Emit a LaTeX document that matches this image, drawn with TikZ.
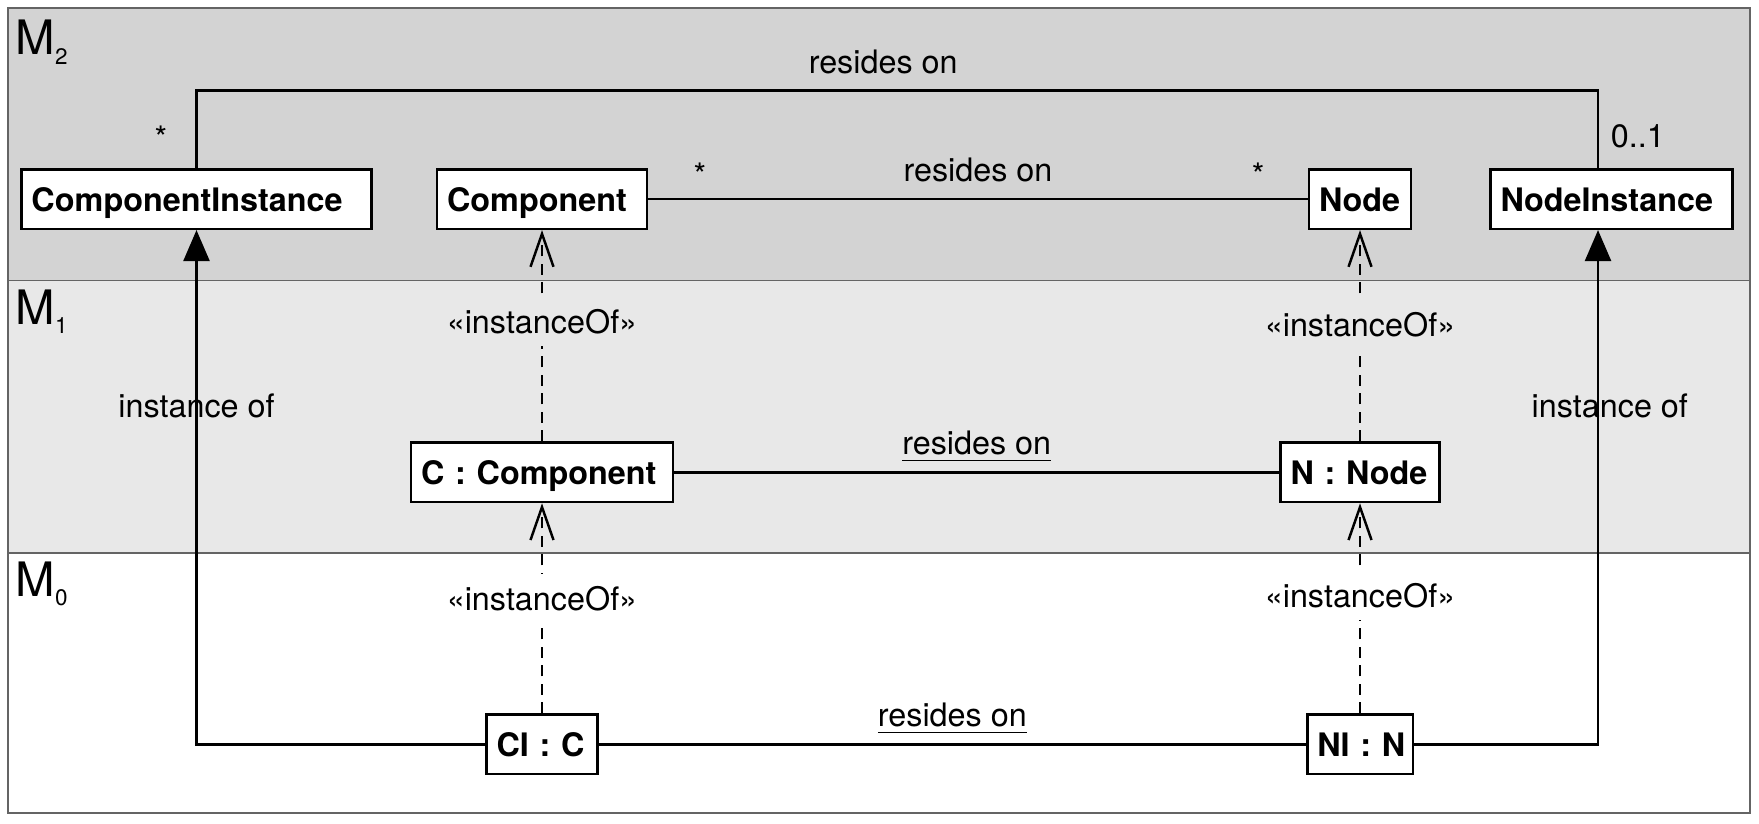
\documentclass[tikz,border=0pt]{standalone}
\usepackage{fontspec}
\setmainfont{TeX Gyre Heros}
\usepackage{tikz}
\usetikzlibrary{positioning, arrows.meta}

\definecolor{mtwo}{RGB}{211,211,211}
\definecolor{mone}{RGB}{232,232,232}
\definecolor{layerline}{RGB}{100,100,100}

\begin{document}
\begin{tikzpicture}[
        node distance=2.7cm and 3.5cm, on grid,
        every node/.style={font=\fontsize{9.2pt}{11pt}\selectfont},
        box/.style={draw, rectangle, fill=white, line width=0.7pt, minimum height=0.595cm, inner xsep=0.1cm, inner ysep=0pt, text height=0.72em, text depth=0pt, align=left, font=\fontsize{9.2pt}{11pt}\selectfont\bfseries},
        layer/.style={anchor=base west, inner sep=0pt, font=\fontsize{13.5pt}{15pt}\selectfont},
        assoc/.style={line width=0.7pt},
        dep/.style={line width=0.7pt, dash pattern=on 1.1mm off 0.75mm, -{Straight Barb[length=3.3mm, width=2.3mm]}},
        inst/.style={line width=0.7pt, -{Triangle[length=3.1mm, width=2.6mm]}},
        role/.style={anchor=base, yshift=0.175cm},
        stereo/.style={fill=#1}
    ]
        % Layers
        \useasboundingbox (0,0) rectangle (17.59,-8.23);
        \fill[mtwo] (0.08,-0.08) rectangle (17.50,-2.805);
        \fill[mone] (0.08,-2.805) rectangle (17.50,-5.53);
        \draw[layerline, line width=0.5pt] (0.08,-0.08) rectangle (17.50,-8.13);
        \draw[layerline, line width=0.5pt] (0.08,-2.805) -- (17.50,-2.805);
        \draw[layerline, line width=0.5pt] (0.08,-5.53) -- (17.50,-5.53);
        \node[layer] (mtwolbl) at (0.148,-0.55) {M\raisebox{-2.6pt}{\fontsize{6.4pt}{7pt}\selectfont 2}};
        \node[layer] (monelbl) at (0.148,-3.24) {M\raisebox{-2.6pt}{\fontsize{6.4pt}{7pt}\selectfont 1}};
        \node[layer] (mzerolbl) at (0.148,-5.967) {M\raisebox{-2.6pt}{\fontsize{6.4pt}{7pt}\selectfont 0}};

        % Nodes
        \node[box, text width=3.3cm] (cinst) at (1.965,-1.991) {ComponentInstance};
        \node[box, text width=1.9cm, right=3.455cm of cinst] (comp) {Component};
        \node[box, text width=0.82cm, right=8.18cm of comp] (nde) {Node};
        \node[box, text width=2.22cm, right=2.515cm of nde] (ninst) {NodeInstance};
        \node[box, text width=2.42cm, below=2.732cm of comp] (cobj) {C : Component};
        \node[box, text width=1.39cm, below=2.732cm of nde] (nobj) {N : Node};
        \node[box, text width=0.91cm, below=2.72cm of cobj] (ciobj) {\mbox{CI : C}};
        \node[box, text width=0.855cm, below=2.72cm of nobj] (niobj) {\mbox{NI : N}};

        % Multiplicities
        \node (mcinst) at ([shift={(-0.355cm,0.30cm)}]cinst.north) {*};
        \node (mcomp) at ([shift={(0.517cm,0.244cm)}]comp.east) {*};
        \node (mnde) at ([shift={(-0.497cm,0.244cm)}]nde.west) {*};
        \node (mninst) at ([shift={(0.263cm,0.314cm)}]ninst.north) {0..1};

        % Arrows
        \draw[assoc] (cinst.north) -- ++(0,0.774) -| node[role, pos=0.245] {resides on} ([xshift=-0.135cm]ninst.north);
        \draw[assoc] (comp) -- node[role] {resides on} (nde);
        \draw[assoc] (cobj) -- node[role] {\underline{resides on}} (nobj);
        \draw[assoc] (ciobj) -- node[role] {\underline{resides on}} (niobj);
        \draw[dep] (cobj) -- node[stereo=mone, pos=0.565] {«instanceOf»} (comp);
        \draw[dep] (nobj) -- node[stereo=mone, pos=0.55] {«instanceOf»} (nde);
        \draw[dep] (ciobj) -- node[stereo=white, pos=0.547] {«instanceOf»} (cobj);
        \draw[dep] (niobj) -- node[stereo=white, pos=0.558] {«instanceOf»} (nobj);
        \draw[inst] (ciobj) -| node[pos=0.829] {instance of} (cinst);
        \draw[inst] (niobj) -| node[pos=0.829, xshift=0.118cm] {instance of} ([xshift=-0.135cm]ninst.south);
    \end{tikzpicture}
\end{document}
